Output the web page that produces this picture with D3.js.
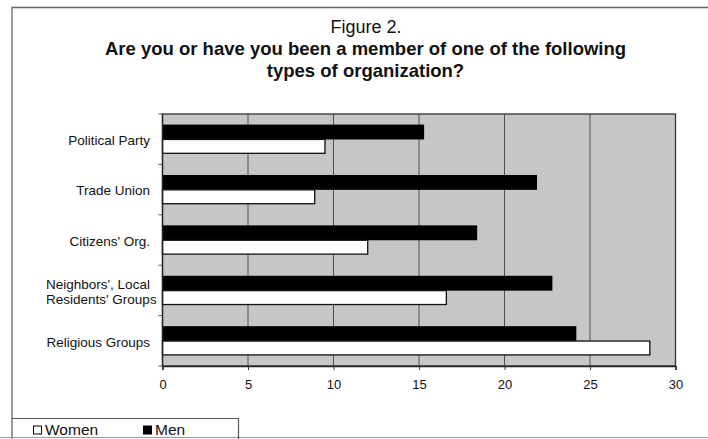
<!DOCTYPE html>
<html>
<head>
<meta charset="utf-8">
<script src="https://cdn.jsdelivr.net/npm/d3@7"></script>
<style>
  html, body { margin: 0; padding: 0; background: #fff; }
  svg { display: block; font-family: "Liberation Sans", Arial, sans-serif; }
</style>
</head>
<body>
<svg id="chart" width="708" height="439"></svg>
<script>
// Membership in organization types, percent by sex
const categories = ["Political Party", "Trade Union", "Citizens' Org.", "Neighbors', Local Residents' Groups", "Religious Groups"];
const categoryLines = [["Political Party"], ["Trade Union"], ["Citizens' Org."], ["Neighbors', Local", "Residents' Groups"], ["Religious Groups"]];
const series = ["Men", "Women"];
const men = [15.3, 21.9, 18.4, 22.8, 24.2];
const women = [9.5, 8.9, 12.0, 16.6, 28.5];
const xTicks = [0, 5, 10, 15, 20, 25, 30];
const titleTop = "Figure 2.";
const titleLines = ["Are you or have you been a member of one of the following", "types of organization?"];

const svg = d3.select("#chart");

// outer frame
svg.append("path")
  .attr("d", "M12,439 L12,7.5 L708,7.5")
  .attr("fill", "none").attr("stroke", "#666").attr("stroke-width", 1.3);
svg.append("line")
  .attr("x1", 0).attr("x2", 708).attr("y1", 437.5).attr("y2", 437.5)
  .attr("stroke", "#999").attr("stroke-width", 1);

// titles
svg.append("text").attr("x", 366).attr("y", 33)
  .attr("text-anchor", "middle").attr("font-size", 18).attr("fill", "#111")
  .text(titleTop);
titleLines.forEach((t, i) => {
  svg.append("text").attr("x", 365.5).attr("y", 55 + i * 21.5)
    .attr("text-anchor", "middle").attr("font-size", 18.5).attr("font-weight", "bold").attr("fill", "#111")
    .text(t);
});

const plotL = 162.5, plotR = 675.5, plotT = 114, plotB = 366;
const x = d3.scaleLinear().domain([0, 30]).range([plotL, plotR]);
const y0 = d3.scaleBand().domain(categories).range([plotT, plotB]).padding(0);
const bw = y0.bandwidth();
const y1 = d3.scaleBand().domain(series).range([bw * 0.21, bw * 0.8]).padding(0);

// plot background
svg.append("rect").attr("x", plotL).attr("y", plotT)
  .attr("width", plotR - plotL).attr("height", plotB - plotT)
  .attr("fill", "#c6c6c6");

// vertical gridlines
svg.append("g").selectAll("line").data(xTicks.slice(1, -1)).join("line")
  .attr("x1", d => x(d)).attr("x2", d => x(d))
  .attr("y1", plotT).attr("y2", plotB)
  .attr("stroke", "#505050").attr("stroke-width", 1);

// bars
const rows = categories.map((c, i) => ({ cat: c, Men: men[i], Women: women[i] }));
const groups = svg.append("g").selectAll("g").data(rows).join("g")
  .attr("transform", d => `translate(0,${y0(d.cat)})`);
groups.append("rect")
  .attr("x", x(0)).attr("y", y1("Men"))
  .attr("width", d => x(d.Men) - x(0)).attr("height", y1.bandwidth())
  .attr("fill", "#000");
groups.append("rect")
  .attr("x", x(0)).attr("y", y1("Women"))
  .attr("width", d => x(d.Women) - x(0)).attr("height", y1.bandwidth() - 1)
  .attr("fill", "#fff").attr("stroke", "#111").attr("stroke-width", 1.3);

// plot border
svg.append("rect").attr("x", plotL).attr("y", plotT)
  .attr("width", plotR - plotL).attr("height", plotB - plotT)
  .attr("fill", "none").attr("stroke", "#333").attr("stroke-width", 1.3);

// x axis
const xAxis = svg.append("g").attr("transform", `translate(0,${plotB})`)
  .call(d3.axisBottom(x).tickValues(xTicks).tickSize(4).tickPadding(10));
xAxis.select(".domain").attr("stroke", "#222").attr("stroke-width", 1.5);
xAxis.selectAll(".tick line").attr("stroke", "#333");
xAxis.selectAll("text").attr("font-size", 13).attr("fill", "#111")
  .attr("font-family", "Liberation Sans, Arial, sans-serif");

// y axis ticks at category boundaries
const bounds = categories.map(c => y0(c)).concat([plotB]);
svg.append("g").selectAll("line").data(bounds).join("line")
  .attr("x1", plotL - 4).attr("x2", plotL)
  .attr("y1", d => d).attr("y2", d => d)
  .attr("stroke", "#555");
svg.append("line").attr("x1", plotL).attr("x2", plotL).attr("y1", plotT).attr("y2", plotB)
  .attr("stroke", "#222").attr("stroke-width", 1.3);

// category labels (wrapped labels are left-aligned as a block)
categories.forEach((c, i) => {
  const lines = categoryLines[i];
  const cy = y0(c) + bw / 2 + 1;
  const multi = lines.length > 1;
  lines.forEach((l, j) => {
    svg.append("text")
      .attr("x", multi ? 46 : 150)
      .attr("y", cy + (j - (lines.length - 1) / 2) * 15)
      .attr("dy", "0.35em").attr("text-anchor", multi ? "start" : "end")
      .attr("font-size", 13.5).attr("fill", "#111")
      .text(l);
  });
});

// legend
svg.append("path")
  .attr("d", "M12,418.5 L238.5,418.5 L238.5,439")
  .attr("fill", "none").attr("stroke", "#555").attr("stroke-width", 1.2);
const legend = [{ name: "Women", fill: "#fff", x: 33 }, { name: "Men", fill: "#000", x: 143 }];
const lg = svg.append("g").selectAll("g").data(legend).join("g")
  .attr("transform", d => `translate(${d.x},0)`);
lg.append("rect").attr("x", 0.5).attr("y", 426).attr("width", 8).attr("height", 8)
  .attr("fill", d => d.fill).attr("stroke", "#000").attr("stroke-width", 1);
lg.append("text").attr("x", 12).attr("y", 435).attr("font-size", 15.5).attr("fill", "#111")
  .text(d => d.name);
</script>
</body>
</html>
